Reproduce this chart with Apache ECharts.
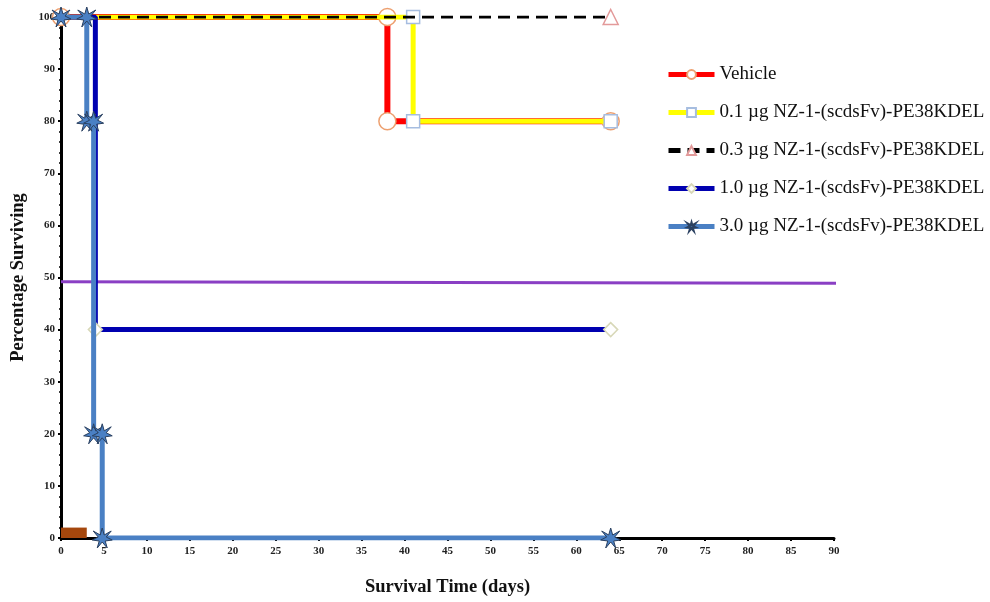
<!DOCTYPE html>
<html><head><meta charset="utf-8">
<script src="https://cdn.jsdelivr.net/npm/echarts@6/dist/echarts.min.js"></script>
<style>html,body{margin:0;padding:0;background:#fff}#c{width:990px;height:602px}</style>
</head><body><div id="c"></div>
<script>
const seriesNames = ['Vehicle','0.1 µg NZ-1-(scdsFv)-PE38KDEL','0.3 µg NZ-1-(scdsFv)-PE38KDEL','1.0 µg NZ-1-(scdsFv)-PE38KDEL','3.0 µg NZ-1-(scdsFv)-PE38KDEL'];
const vehicle = [[0,100],[38,100],[38,80],[64,80]];
const dose01 = [[0,100],[41,100],[41,80],[64,80]];
const dose03 = [[0,100],[64,100]];
const dose10 = [[0,100],[4,100],[4,40],[64,40]];
const dose30 = [[0,100],[3,100],[3,80],[3.8,80],[3.8,20],[4.8,20],[4.8,0],[64,0]];
const medianLine = [[0,49.2],[91.3,48.9]];
const treatmentBar = [[0,0],[3,2]];
const xTicks = {min:0,max:90,interval:5};
const yTicks = {min:0,max:100,interval:10};

const STAR = 'path://M0,-10 L2,-3 L9,-7 L4,-1 L10,2 L3,3 L5,10 L0,4 L-5,10 L-3,3 L-10,2 L-4,-1 L-9,-7 L-2,-3 Z';
const font = 'Liberation Serif';

function mk(data, markIdx){
  return data.map((p,i)=> markIdx===null || markIdx.includes(i) ? {value:p} : {value:p, symbol:'none'});
}

const chart = echarts.init(document.getElementById('c'));
chart.setOption({
  animation:false,
  backgroundColor:'#fff',
  grid:{left:61,right:156,top:17,bottom:64,containLabel:false,outerBoundsMode:'none'},
  legend:{
    orient:'vertical', left:661, top:60, itemGap:19, itemWidth:46, itemHeight:11,
    textStyle:{fontFamily:font,fontSize:19,color:'#111'},
    lineStyle:{width:5},
    data:seriesNames
  },
  xAxis:{
    type:'value', min:xTicks.min, max:xTicks.max, interval:xTicks.interval,
    name:'Survival Time (days)', nameLocation:'middle', nameGap:40,
    nameTextStyle:{fontFamily:font,fontSize:18.5,fontWeight:'bold',color:'#111'},
    axisLine:{lineStyle:{color:'#000',width:3}},
    axisTick:{show:true,length:3,lineStyle:{color:'#000',width:2}},
    minorTick:{show:true,splitNumber:5,length:2,lineStyle:{color:'#000',width:1.5}},
    axisLabel:{fontFamily:font,fontSize:11,fontWeight:'bold',color:'#222',margin:8},
    splitLine:{show:false}
  },
  yAxis:{
    type:'value', min:yTicks.min, max:yTicks.max, interval:yTicks.interval,
    name:'Percentage Surviving', nameLocation:'middle', nameGap:33, nameRotate:90,
    nameTextStyle:{fontFamily:font,fontSize:18.5,fontWeight:'bold',color:'#111'},
    axisLine:{show:true,lineStyle:{color:'#000',width:3}},
    axisTick:{show:true,length:3,lineStyle:{color:'#000',width:2}},
    minorTick:{show:true,splitNumber:5,length:2,lineStyle:{color:'#000',width:1.5}},
    axisLabel:{fontFamily:font,fontSize:11,fontWeight:'bold',color:'#222',margin:6},
    splitLine:{show:false}
  },
  series:[
    {name:'median', type:'line', data:medianLine, clip:false, symbol:'none', silent:true,
     lineStyle:{color:'#8a3fc4',width:3}, z:1,
     markArea:{silent:true, itemStyle:{color:'#a5470d'}, data:[[{coord:treatmentBar[0]},{coord:treatmentBar[1]}]]}},
    {name:seriesNames[0], type:'line', data:mk(vehicle,null), symbol:'circle', symbolSize:17,
     lineStyle:{color:'#ff0000',width:6}, itemStyle:{color:'#fff',borderColor:'#eda070',borderWidth:1.5}, z:2},
    {name:seriesNames[1], type:'line', data:mk(dose01,[1,2,3]), symbol:'rect', symbolSize:13,
     lineStyle:{color:'#ffff00',width:5}, itemStyle:{color:'#fff',borderColor:'#a6bde0',borderWidth:1.5}, z:3},
    {name:seriesNames[2], type:'line', data:mk(dose03,[1]), symbol:'triangle', symbolSize:15,
     lineStyle:{color:'#000',width:3,type:[12,7]}, itemStyle:{color:'#fff',borderColor:'#e39a9a',borderWidth:1.5}, z:4},
    {name:seriesNames[3], type:'line', data:mk(dose10,[2,3]), symbol:'diamond', symbolSize:14,
     lineStyle:{color:'#0000b0',width:5}, itemStyle:{color:'#fff',borderColor:'#d8d8b8',borderWidth:1.5}, z:5},
    {name:seriesNames[4], type:'line', data:mk(dose30,null), symbol:STAR, symbolSize:20,
     lineStyle:{color:'#4a80c4',width:5}, itemStyle:{color:'#4a80c4',borderColor:'#2a4060',borderWidth:1}, z:6}
  ]
});
</script></body></html>
